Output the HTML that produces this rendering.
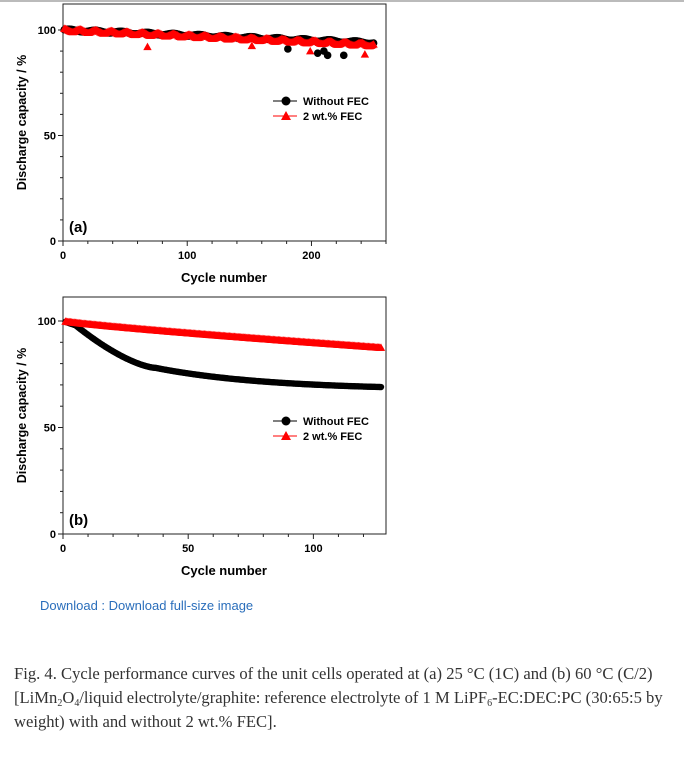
<!DOCTYPE html>
<html><head><meta charset="utf-8"><style>
body{margin:0;width:684px;height:762px;background:#fff;overflow:hidden;font-family:"Liberation Sans",sans-serif}
svg{position:absolute;left:0;top:0}
.cap{position:absolute;left:14px;top:662px;width:680px;white-space:nowrap;font-family:"Liberation Serif",serif;font-size:16.6px;line-height:24px;color:#333}
.cap sub{font-size:10px;line-height:0;vertical-align:-3px}
.dl{position:absolute;left:40px;top:598px;font-size:13px;color:#2a6ebb}
</style></head><body>
<svg id="s" width="684" height="762" xmlns="http://www.w3.org/2000/svg" font-family="Liberation Sans, sans-serif">
<line x1="0" y1="1" x2="684" y2="1" stroke="#bbb" stroke-width="2"/>
</svg>
<div class="dl">Download : Download full-size image</div>
<div class="cap">Fig. 4. Cycle performance curves of the unit cells operated at (a) 25 °C (1C) and (b) 60 °C (C/2)<br>[LiMn<sub>2</sub>O<sub>4</sub>/liquid electrolyte/graphite: reference electrolyte of 1 M LiPF<sub>6</sub>-EC:DEC:PC (30:65:5 by<br>weight) with and without 2 wt.% FEC].</div>
<script>
const s=document.getElementById('s');let h='';
function panel(top,y0,y50,y100,xmax,xstep,xminor,label,blk,red,legY,rr){
 const L=63,R=386,B=y0;const sx=x=>L+x*(R-L)/xmax, sy=v=>y0-(y0-y100)*v/100;
 h+=`<rect x="${L}" y="${top}" width="${R-L}" height="${B-top}" fill="none" stroke="#222" stroke-width="1"/>`;
 for(let x=0;x<=xmax;x+=xminor){const X=sx(x);const big=x%xstep==0;h+=`<line x1="${X}" y1="${B}" x2="${X}" y2="${B+(big?5:3)}" stroke="#222"/>`;if(big)h+=`<text x="${X}" y="${B+18}" font-size="11" font-weight="bold" text-anchor="middle">${x}</text>`;}
 for(let v=0;v<=100;v+=10){const Y=sy(v);const big=v%50==0;h+=`<line x1="${L}" y1="${Y}" x2="${L-(big?5:3)}" y2="${Y}" stroke="#222"/>`;if(big)h+=`<text x="${L-7}" y="${Y+4}" font-size="11" font-weight="bold" text-anchor="end">${v}</text>`;}
 h+=`<text x="224" y="${B+41}" font-size="13" font-weight="bold" text-anchor="middle">Cycle number</text>`;
 const cy=(top+B)/2;h+=`<text transform="translate(26,${cy}) rotate(-90)" font-size="12.5" font-weight="bold" text-anchor="middle">Discharge capacity / %</text>`;
 h+=`<text x="69" y="${B-9}" font-size="15" font-weight="bold">${label}</text>`;
 blk.forEach(p=>h+=`<circle cx="${sx(p[0])}" cy="${sy(p[1])}" r="${rr}" fill="#000"/>`);
 red.forEach(p=>{const X=sx(p[0]),Y=sy(p[1]);h+=`<polygon points="${X},${Y-4.2} ${X-4.2},${Y+3.3} ${X+4.2},${Y+3.3}" fill="#f00"/>`});
 h+=`<line x1="273" y1="${legY}" x2="297" y2="${legY}" stroke="#000"/><circle cx="286" cy="${legY}" r="4.5"/><text x="303" y="${legY+4}" font-size="11" font-weight="bold">Without FEC</text>`;
 h+=`<line x1="273" y1="${legY+15}" x2="297" y2="${legY+15}" stroke="#f00"/><polygon points="286,${legY+10} 281,${legY+19} 291,${legY+19}" fill="#f00"/><text x="303" y="${legY+19}" font-size="11" font-weight="bold">2 wt.% FEC</text>`;
}
let b=[],r=[];
for(let i=1;i<=250;i++){let v=100-i*0.024+Math.sin(i*0.3)*0.5;b.push([i,v]);let w=100-i*0.028+Math.sin(i*0.5+1)*0.7;r.push([i,w]);}
[[181,91],[205,89],[213,88],[226,88],[210,90]].forEach(p=>b.push(p));
[[68,92],[152,92.5],[199,90],[243,88.5]].forEach(p=>r.push(p));
panel(4,241,136,30,260,100,20,'(a)',b,r,101,3.8);
b=[];r=[];
for(let i=1;i<=127;i+=0.5){let v;if(i<5)v=100-i*0.4;else if(i<37)v=98-20*(1-Math.pow(1-(i-5)/32,1.5));else v=78-9*(1-Math.exp(-(i-37)/45))/(1-Math.exp(-90/45));b.push([i,v]);r.push([i,100-12.5*Math.pow(i/127,0.85)]);}
panel(297,534,428,321,129,50,10,'(b)',b,r,421,3.2);
s.innerHTML+=h;
</script>
</body></html>
